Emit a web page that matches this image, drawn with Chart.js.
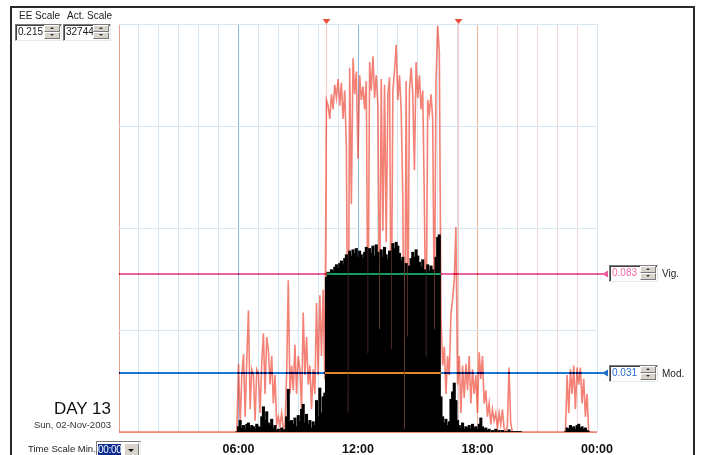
<!DOCTYPE html>
<html>
<head>
<meta charset="utf-8">
<script src="https://cdn.jsdelivr.net/npm/chart.js@4.4.1/dist/chart.umd.min.js"></script>
<style>
html, body { margin:0; padding:0; background:#fff; }
body { width:701px; height:455px; overflow:hidden; position:relative; font-family:"Liberation Sans", Arial, sans-serif; color:#222; }
#chart { position:absolute; left:0; top:0; }
.frame { position:absolute; left:10px; top:6px; width:681px; height:470px; border:2px solid #2a2a2a; pointer-events:none; }
.lbl { position:absolute; font-size:10px; white-space:nowrap; line-height:1; }
.spin { position:absolute; height:15px; background:#fff; border:1px solid; border-color:#7a7a7a #e8e8e8 #e8e8e8 #7a7a7a; box-shadow: inset 1px 1px 0 #404040; font-size:10px; }
.spin span { position:absolute; left:2px; top:2px; line-height:1; }
.spin .up, .spin .dn { position:absolute; right:1px; width:14px; height:5px; background:#d8d4cc; border:1px solid; border-color:#fff #7a7a7a #7a7a7a #fff; }
.spin .up { top:0; } .spin .dn { top:7px; }
.spin .up::after, .spin .dn::after { content:''; position:absolute; left:5px; top:1px; border-left:2px solid transparent; border-right:2px solid transparent; }
.spin .up::after { border-bottom:2px solid #333; }
.spin .dn::after { border-top:2px solid #333; }
.drop { position:absolute; left:96px; top:441px; width:43px; height:16px; background:#fff; border:1px solid; border-color:#7a7a7a #e8e8e8 #e8e8e8 #7a7a7a; }
.drop .sel { position:absolute; left:1px; top:2px; width:23px; height:11px; background:#0b2a8f; color:#fff; font-size:10px; line-height:11px; text-align:center; letter-spacing:-0.3px; }
.drop .btn { position:absolute; left:27px; top:1px; width:13px; height:12px; background:#d8d4cc; border:1px solid; border-color:#fff #7a7a7a #7a7a7a #fff; }
.drop .btn::after { content:''; position:absolute; left:3px; top:5px; border-left:3px solid transparent; border-right:3px solid transparent; border-top:3px solid #111; }
</style>
</head>
<body>
<canvas id="chart" width="701" height="455"></canvas>
<div class="frame"></div>

<div class="lbl" style="left:19px;top:11px;">EE Scale</div>
<div class="lbl" style="left:67px;top:11px;">Act. Scale</div>
<div class="spin" style="left:15px;top:24px;width:45px;"><span>0.215</span><div class="up"></div><div class="dn"></div></div>
<div class="spin" style="left:63px;top:24px;width:46px;"><span>32744</span><div class="up"></div><div class="dn"></div></div>

<div class="lbl" style="left:0;width:111px;text-align:right;top:400px;font-size:17px;color:#111;">DAY 13</div>
<div class="lbl" style="left:0;width:111px;text-align:right;top:420px;font-size:9.5px;color:#333;">Sun, 02-Nov-2003</div>
<div class="lbl" style="left:28px;top:444px;font-size:9.5px;">Time Scale Min.</div>
<div class="drop"><div class="sel">00:00</div><div class="btn"></div></div>

<div class="spin" style="left:609px;top:265px;width:47px;"><span style="color:#f06aa8">0.083</span><div class="up"></div><div class="dn"></div></div>
<div class="lbl" style="left:662px;top:269px;">Vig.</div>
<div class="spin" style="left:609px;top:365px;width:47px;"><span style="color:#2a6cc8">0.031</span><div class="up"></div><div class="dn"></div></div>
<div class="lbl" style="left:662px;top:369px;">Mod.</div>

<script>
// minutes after midnight, one value every 5 min per segment
const stepMin = 5;
const morningStart = 355, dayStart = 625, eveningStart = 970, nightStart = 1345;

// energy expenditure (EE scale)
const morningEE = [0,
  0.036, 0.004, 0.030, 0.041, 0.008, 0.038, 0.064, 0.012, 0.033, 0.030,
  0.006, 0.033, 0.031, 0.010, 0.036, 0.052, 0.020, 0.050, 0.043, 0.025,
  0.040, 0.015, 0.030, 0.004, 0.008, 0.003, 0.010, 0.002, 0.003, 0.030,
  0.080, 0.020, 0.035, 0.022, 0.046, 0.020, 0.040, 0.033, 0.012, 0.063,
  0.030, 0.050, 0.025, 0.035, 0.012, 0.033, 0.020, 0.068, 0.030, 0.072,
  0.040, 0.075, 0.028];
const dayEE = [
  0.175, 0.172, 0.165, 0.178, 0.170, 0.183, 0.176, 0.186, 0.172, 0.184,
  0.165, 0.180, 0.150, 0.010, 0.192, 0.120, 0.197, 0.178, 0.190, 0.144,
  0.188, 0.175, 0.182, 0.170, 0.185, 0.042, 0.195, 0.180, 0.198, 0.176,
  0.188, 0.172, 0.054, 0.186, 0.106, 0.183, 0.100, 0.178, 0.187, 0.043,
  0.180, 0.190, 0.204, 0.175, 0.188, 0.170, 0.123, 0.001, 0.185, 0.050,
  0.180, 0.192, 0.178, 0.138, 0.195, 0.176, 0.188, 0.170, 0.180, 0.120,
  0.040, 0.175, 0.168, 0.178, 0.165, 0.054, 0.185, 0.214, 0.200];
const eveningEE = [
  0.060, 0.035, 0.045, 0.020, 0.040, 0.030, 0.062, 0.070, 0.080, 0.108,
  0.025, 0.040, 0.010, 0.035, 0.018, 0.036, 0.022, 0.040, 0.015, 0.033,
  0.020, 0.030, 0.010, 0.042, 0.028, 0.040, 0.015, 0.022, 0.008, 0.015,
  0.004, 0.012, 0.006, 0.010, 0.002, 0.010, 0.004, 0.012, 0.002, 0.000,
  0.003, 0.034, 0.005, 0, 0, 0, 0, 0, 0];
const nightEE = [0, 0.030, 0.010, 0.033, 0.020, 0.035, 0.012, 0.034, 0.025, 0.034, 0.015, 0.028, 0.008, 0.020, 0];

// activity counts (Act. scale)
const morningAct = [0,
  400, 900, 300, 500, 200, 600, 700, 300, 500, 400,
  200, 600, 400, 300, 1200, 2000, 900, 1600, 700, 500,
  1000, 300, 500, 100, 200, 0, 300, 100, 200, 1200,
  3400, 800, 900, 600, 1100, 400, 1300, 800, 1800, 2200,
  700, 1400, 600, 900, 300, 800, 500, 2500, 1200, 3500,
  1500, 2800, 3100];
const dayAct = [
  12400, 12800, 12600, 13000, 12900, 13200, 13400, 13100, 13500, 13700,
  13400, 13900, 14200, 1500, 14500, 14100, 14600, 14300, 14700, 14000,
  14500, 14200, 13900, 14400, 14800, 6300, 14700, 14300, 14900, 14100,
  15000, 14400, 8200, 14600, 14000, 14800, 14200, 13800, 14500, 6600,
  15100, 14700, 15200, 14900, 14300, 13700, 14000, 160, 13500, 7600,
  13300, 13900, 14400, 14000, 14600, 14100, 13600, 13200, 13800, 13000,
  6000, 13400, 12900, 13300, 13000, 8200, 14000, 15600, 15800];
const eveningAct = [
  2800, 1200, 700, 1000, 500, 800, 2600, 3200, 3900, 2500,
  900, 500, 300, 700, 200, 400, 300, 500, 200, 600,
  300, 400, 200, 600, 1100, 400, 200, 300, 100, 200,
  0, 100, 0, 200, 0, 100, 0, 100, 0, 0,
  0, 150, 0, 0, 0, 0, 0, 0, 0];
const nightAct = [0, 300, 200, 500, 300, 400, 200, 500, 600, 300, 400, 200, 300, 100, 0];

const eeMax = 0.215, actMax = 32744;
const vigThreshold = 0.083, modThreshold = 0.031;
const markerTimes = [624, 1020];
const tickTimes = [360, 720, 1080, 1440];
const tickLabels = ['06:00', '12:00', '18:00', '00:00'];

function toPoints(start, values) {
  return values.map((v, i) => ({ x: start + i * stepMin, y: v }));
}

const eePoints = [{ x: 0, y: 0 },
  ...toPoints(morningStart, morningEE), ...toPoints(dayStart, dayEE),
  ...toPoints(eveningStart, eveningEE), ...toPoints(nightStart, nightEE),
  { x: 1440, y: 0 }];
const actPoints = [
  ...toPoints(morningStart, morningAct), ...toPoints(dayStart, dayAct),
  ...toPoints(eveningStart, eveningAct), ...toPoints(nightStart, nightAct)];

const overlay = {
  id: 'overlay',
  beforeDraw(chart) {
    const c = chart.ctx;
    c.save();
    c.fillStyle = '#fff';
    c.fillRect(0, 0, chart.width, chart.height);
    c.restore();
  },
  beforeDatasetsDraw(chart) {
    const { ctx: c, chartArea: a, scales: { x } } = chart;
    c.save();
    markerTimes.forEach(t => {
      const px = Math.round(x.getPixelForValue(t)) + 0.5;
      c.strokeStyle = 'rgba(235,100,80,0.35)';
      c.lineWidth = 1;
      c.beginPath(); c.moveTo(px, a.top); c.lineTo(px, a.bottom); c.stroke();
    });
    c.restore();
  },
  afterDatasetsDraw(chart) {
    const { ctx: c, chartArea: a, scales: { x, ee } } = chart;
    c.save();
    // markers at the top
    markerTimes.forEach(t => {
      const px = Math.round(x.getPixelForValue(t)) + 0.5;
      c.fillStyle = '#e8503a';
      c.beginPath(); c.moveTo(px - 4, a.top - 5); c.lineTo(px + 4, a.top - 5); c.lineTo(px, a.top); c.closePath(); c.fill();
    });
    // threshold lines, drawn inverted like the original XOR pen
    c.globalCompositeOperation = 'difference';
    c.lineWidth = 2;
    [[vigThreshold, 'rgb(20,155,95)'], [modThreshold, 'rgb(225,135,45)']].forEach(([v, col]) => {
      const py = Math.round(ee.getPixelForValue(v));
      c.strokeStyle = col;
      c.beginPath(); c.moveTo(a.left, py); c.lineTo(a.right + 6, py); c.stroke();
    });
    c.globalCompositeOperation = 'source-over';
    // pointers next to the spin boxes
    [[vigThreshold, '#ee5a9c'], [modThreshold, '#1e6fc8']].forEach(([v, col]) => {
      const py = Math.round(ee.getPixelForValue(v));
      c.fillStyle = col;
      c.beginPath(); c.moveTo(a.right + 5, py); c.lineTo(a.right + 11, py - 3.5); c.lineTo(a.right + 11, py + 3.5); c.closePath(); c.fill();
    });
    // time labels
    c.fillStyle = '#111';
    c.font = 'bold 12.5px "Liberation Sans", Arial, sans-serif';
    c.textAlign = 'center';
    c.textBaseline = 'middle';
    tickTimes.forEach((t, i) => c.fillText(tickLabels[i], x.getPixelForValue(t), a.bottom + 18));
    c.restore();
  }
};

new Chart(document.getElementById('chart').getContext('2d'), {
  type: 'bar',
  data: {
    datasets: [
      {
        type: 'bar',
        label: 'Activity',
        data: actPoints,
        yAxisID: 'act',
        backgroundColor: '#000',
        borderWidth: 0,
        barPercentage: 1,
        categoryPercentage: 1,
        inflateAmount: 0.7,
        order: 0
      },
      {
        type: 'line',
        label: 'EE',
        data: eePoints,
        yAxisID: 'ee',
        borderColor: 'rgba(236,45,25,0.6)',
        borderWidth: 1.6,
        pointRadius: 0,
        tension: 0,
        order: 1
      }
    ]
  },
  options: {
    responsive: false,
    animation: false,
    devicePixelRatio: 1,
    events: [],
    layout: { padding: { left: 119, top: 24, right: 104, bottom: 23 } },
    plugins: { legend: { display: false }, tooltip: { enabled: false } },
    scales: {
      x: {
        type: 'linear', min: 0, max: 1440, offset: false,
        ticks: { display: false, stepSize: 60, maxTicksLimit: 30, autoSkip: false },
        grid: {
          offset: false, drawTicks: false,
          color: c => {
            const v = c.tick.value;
            if (v === 0) return 'rgba(230,150,130,0.9)';
            if (v === 360 || v === 720) return 'rgb(140,185,220)';
            if (v === 1080) return 'rgb(240,175,150)';
            if (v > 1080 && v < 1440) return 'rgb(242,215,215)';
            return 'rgb(215,230,240)';
          }
        },
        border: { display: false }
      },
      ee: {
        type: 'linear', position: 'left', min: 0, max: eeMax,
        ticks: { display: false, count: 5 },
        grid: { drawTicks: false, color: c => c.tick.value === 0 ? 'rgba(235,120,100,0.9)' : 'rgb(215,230,240)' },
        border: { display: false }
      },
      act: { type: 'linear', display: false, min: 0, max: actMax }
    }
  },
  plugins: [overlay]
});
</script>
</body>
</html>
